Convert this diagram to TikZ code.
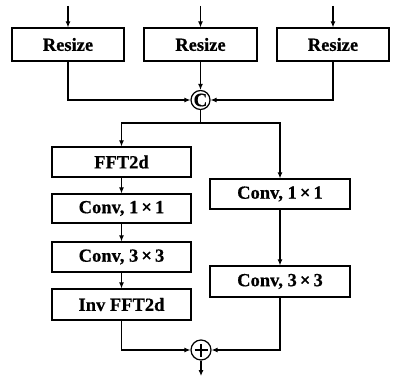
\documentclass[tikz,border=0pt]{standalone}
\usepackage{fontspec}
\setmainfont[BoldFeatures={FakeBold=0.6}]{Liberation Serif}
\usetikzlibrary{arrows.meta}
\begin{document}
\begin{tikzpicture}[x=1pt,y=-1pt,
  box/.style={draw, line width=1.2pt, minimum height=30pt, inner sep=0pt,
    font=\bfseries\fontsize{18.5}{18.5}\selectfont},
  opnode/.style={draw, circle, line width=1.2pt, inner sep=0pt, minimum size=19pt},
  arr/.style={-{Latex[length=6pt,width=5pt]}, line width=1.1pt},
  ln/.style={line width=1.1pt}]
\useasboundingbox (0,0) rectangle (395,377);
% inputs
\coordinate (i1) at (68,6);
\coordinate (i2) at (200.5,6);
\coordinate (i3) at (333,6);
\node[box, minimum width=112pt, minimum height=33pt] (r1) at (68,44.5) {Resize};
\node[box, minimum width=113pt, minimum height=33pt] (r2) at (200.5,44.5) {Resize};
\node[box, minimum width=112pt, minimum height=33pt] (r3) at (333,44.5) {Resize};
\node[opnode] (cat) at (200.5,100) {};
\node[font=\bfseries\fontsize{19}{19}\selectfont, inner sep=0pt] (catl) at (cat.center) {C};
\coordinate (split) at (200.5,123);
\node[box, minimum width=139pt] (fft) at (121.5,162) {FFT2d};
\node[box, minimum width=139pt, minimum height=29pt] (c1l) at (121.5,208.5) {Conv, 1\,×\,1};
\node[box, minimum width=139pt] (c3l) at (121.5,257) {Conv, 3\,×\,3};
\node[box, minimum width=139pt, minimum height=31pt] (inv) at (121.5,304.5) {Inv FFT2d};
\node[box, minimum width=140pt] (c1r) at (280,194) {Conv, 1\,×\,1};
\node[box, minimum width=140pt, minimum height=31pt] (c3r) at (280,281.5) {Conv, 3\,×\,3};
\node[draw, circle, line width=1.2pt, inner sep=0pt, minimum size=20pt] (plus) at (201,350) {};
\draw[line width=1.1pt] ([yshift=-6.5pt]plus.center) -- ([yshift=6.5pt]plus.center)
  ([xshift=-6.5pt]plus.center) -- ([xshift=6.5pt]plus.center);
\coordinate (out) at (201,376);
% connectors
\draw[arr] (i1) -- (r1);
\draw[arr] (i2) -- (r2);
\draw[arr] (i3) -- (r3);
\draw[arr] (r2) -- (cat);
\draw[arr] (r1.south) |- (cat.west);
\draw[arr] (r3.south) |- (cat.east);
\draw[ln] (cat.south) -- (split);
\draw[arr] (split) -| (fft.north);
\draw[arr] (split) -| (c1r.north);
\draw[arr] (fft) -- (c1l);
\draw[arr] (c1l) -- (c3l);
\draw[arr] (c3l) -- (inv);
\draw[arr] (c1r) -- (c3r);
\draw[arr] (inv.south) |- (plus.west);
\draw[arr] (c3r.south) |- (plus.east);
\draw[arr] (plus.south) -- (out);
\end{tikzpicture}
\end{document}
